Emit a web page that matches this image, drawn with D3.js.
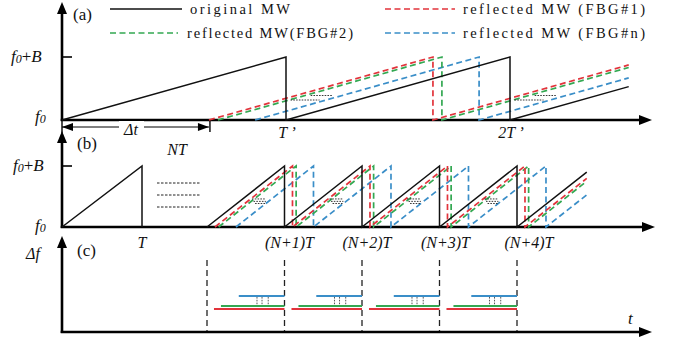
<!DOCTYPE html>
<html><head><meta charset="utf-8">
<script src="https://cdn.jsdelivr.net/npm/d3@7"></script>
<style>
body{margin:0;background:#fff}
svg{display:block}
</style>
</head><body>
<svg id="fig" width="675" height="341"></svg>
<script>
// ---- signals: original chirp and the three FBG reflections ----
const seriesNames  = ["original MW", "reflected MW (FBG#1)", "reflected MW(FBG#2)", "reflected MW (FBG#n)"];
const seriesColors = ["#111111", "#e2333b", "#33a852", "#3a8ec8"];

// panel (a): one chirp period T' = 1; delay of each signal in units of T'
const delaysA = [0, 0.656, 0.696, 0.862];
const endA = 2.53;
const tickTimesA  = [1, 2];
const tickLabelsA = ["T\u2009\u2019", "2T\u2009\u2019"];

// panel (b): period T; first chirp, then the chirps after NT (k = periods after NT)
const delaysB = [0, 0.103, 0.15, 0.374];
const endB = 4.9;
const tickLabelsB = ["T", "(N+1)T", "(N+2)T", "(N+3)T", "(N+4)T"];

// panel (c): beat frequency of each reflection (FBG#1, FBG#2, FBG#n)
const beatStart  = [0.09, 0.18, 0.41];
const beatLevels = [0.23, 0.26, 0.36];
const beatPeriods = [0, 1, 2, 3];

const svg = d3.select("#fig");
const SERIF = "'Liberation Serif'";

// scales
const xA  = d3.scaleLinear().domain([0, 1]).range([62, 286]);
const yA  = d3.scaleLinear().domain([0, 1]).range([120, 57]);
const xB1 = d3.scaleLinear().domain([0, 1]).range([62, 142]);
const xB2 = d3.scaleLinear().domain([0, 4]).range([207, 517]);
const yB  = d3.scaleLinear().domain([0, 1]).range([227, 166]);
const yC  = d3.scaleLinear().domain([0, 1]).range([332, 232]);

function txt(x, y, size, s, italic, anchor) {
  return svg.append("text").attr("x", x).attr("y", y)
    .style("font-family", SERIF).style("font-size", size + "px")
    .style("font-style", italic ? "italic" : "normal")
    .attr("fill", "#111").attr("text-anchor", anchor || "start").text(s);
}

// sawtooth vertices: linear ramps starting at `delay`, reset every period
function saw(delay, tEnd) {
  const pts = [[delay, 0]];
  let s = delay;
  while (s + 1 <= tEnd + 1e-9) { pts.push([s + 1, 1], [s + 1, 0]); s += 1; }
  if (tEnd > s) pts.push([tEnd, tEnd - s]);
  return pts;
}

function drawSaw(g, pts, x, y, i) {
  const line = d3.line().x(p => x(p[0])).y(p => y(p[1]));
  g.append("path").attr("d", line(pts))
    .attr("fill", "none")
    .attr("stroke", seriesColors[i])
    .attr("stroke-width", i === 0 ? 1.5 : 1.7)
    .attr("stroke-dasharray", i === 0 ? null : "6,3.5");
}

// axes with arrow heads
function axes(x0, yBase, yTop, xEnd) {
  const g = svg.append("g");
  g.append("line").attr("x1", x0).attr("x2", x0).attr("y1", yBase + 1).attr("y2", yTop + 8)
    .attr("stroke", "#000").attr("stroke-width", 2.6);
  g.append("path").attr("d", `M${x0},${yTop}L${x0 - 5},${yTop + 12}L${x0 + 5},${yTop + 12}Z`).attr("fill", "#000");
  g.append("line").attr("x1", x0 - 1.3).attr("x2", xEnd - 8).attr("y1", yBase).attr("y2", yBase)
    .attr("stroke", "#000").attr("stroke-width", 2.6);
  g.append("path").attr("d", `M${xEnd},${yBase}L${xEnd - 13},${yBase - 5}L${xEnd - 13},${yBase + 5}Z`).attr("fill", "#000");
}

function fLabel(x, y, withB) {
  const t = txt(x, y, 17, "", true);
  t.append("tspan").text("f");
  t.append("tspan").style("font-size", "12px").attr("dy", 1).text("0");
  if (withB) {
    t.append("tspan").attr("dy", -1).style("font-style", "normal").text("+");
    t.append("tspan").text("B");
  }
}

function dotted(x1, x2, y1, y2, color) {
  svg.append("line").attr("x1", x1).attr("x2", x2).attr("y1", y1).attr("y2", y2)
    .attr("stroke", color || "#222").attr("stroke-width", 0.9).attr("stroke-dasharray", "1.6,1.2");
}

// ================= panel (a) =================
axes(62, 120, 2, 652);
svg.append("line").attr("x1", 62).attr("x2", 72).attr("y1", yA(1)).attr("y2", yA(1)).attr("stroke", "#000").attr("stroke-width", 1.6);
fLabel(11, yA(1) + 5, true);
fLabel(35, 122, false);
const gA = svg.append("g");
[3, 2, 1, 0].forEach(i => drawSaw(gA, saw(delaysA[i], endA), xA, yA, i));
// beat-note hatches after each reset
tickTimesA.forEach(t => {
  dotted(xA(t + 0.11), xA(t + 0.21), 95.5, 95.5);
  dotted(xA(t + 0.02), xA(t + 0.15), 100, 100);
});
tickTimesA.forEach((t, j) => txt(xA(t) + 1, 138, 16, tickLabelsA[j], true, "middle"));
// delay marker Δt
const dtX1 = xA(0), dtX2 = xA(delaysA[1]);
svg.append("line").attr("x1", dtX1).attr("x2", dtX2).attr("y1", 127).attr("y2", 127).attr("stroke", "#000").attr("stroke-width", 1);
svg.append("path").attr("d", `M${dtX1},127L${dtX1 + 11},123L${dtX1 + 11},131Z`).attr("fill", "#000");
svg.append("path").attr("d", `M${dtX2},127L${dtX2 - 11},123L${dtX2 - 11},131Z`).attr("fill", "#000");
svg.append("line").attr("x1", dtX2 + 1).attr("x2", dtX2 + 1).attr("y1", 121).attr("y2", 132).attr("stroke", "#000").attr("stroke-width", 1.4);
svg.append("line").attr("x1", dtX1).attr("x2", dtX1).attr("y1", 121).attr("y2", 133).attr("stroke", "#000").attr("stroke-width", 1.4);
svg.append("rect").attr("x", 119).attr("y", 121).attr("width", 25).attr("height", 14).attr("fill", "#fff");
txt(131, 135, 16, "\u0394t", true, "middle");
txt(73, 20, 17, "(a)", false);

// legend
const legendPos = [[110, 182, 9, 190, 100], [385, 455, 9, 463, 182], [110, 178, 33, 187, 166], [385, 455, 33, 463, 182]];
legendPos.forEach((p, i) => {
  svg.append("line").attr("x1", p[0]).attr("x2", p[1]).attr("y1", p[2]).attr("y2", p[2])
    .attr("stroke", seriesColors[i]).attr("stroke-width", 1.6)
    .attr("stroke-dasharray", i === 0 ? null : "6,3.5");
  txt(p[3], p[2] + 5, 14.5, seriesNames[i], false)
    .attr("textLength", p[4]).attr("lengthAdjust", "spacing");
});

// ================= panel (b) =================
axes(62, 227, 131, 655);
svg.append("line").attr("x1", 62).attr("x2", 72).attr("y1", yB(1)).attr("y2", yB(1)).attr("stroke", "#000").attr("stroke-width", 1.6);
fLabel(13, yB(1) + 5, true);
fLabel(35, 231, false);
txt(77, 149, 17, "(b)", false);
const gB = svg.append("g");
drawSaw(gB, saw(0, 1), xB1, yB, 0);
[3, 2, 1, 0].forEach(i => drawSaw(gB, saw(delaysB[i], endB), xB2, yB, i));
[0, 1, 2, 3].forEach(k => {
  [0.46, 0.42, 0.385].forEach((f, j) => dotted(xB2(k + 0.58 + j * 0.02), xB2(k + 0.76), yB(f), yB(f)));
});
// NT gap
txt(177, 155, 16, "NT", true, "middle");
[183, 195, 207].forEach(y => svg.append("line").attr("x1", 157).attr("x2", 200).attr("y1", y).attr("y2", y)
  .attr("stroke", "#222").attr("stroke-width", 1).attr("stroke-dasharray", "2.5,1.5"));
// period labels
const tickXB = [xB1(1), xB2(1) + 5, xB2(2) + 5, xB2(3) + 6, xB2(4) + 12];
tickLabelsB.forEach((l, j) => txt(tickXB[j], 248, 16, l, true, "middle"));

// ================= panel (c) =================
axes(62, 332, 236, 652);
txt(77, 256, 17, "(c)", false);
txt(26, 259, 16, "\u0394f", true);
txt(628, 324, 17, "t", true);
[0, 1, 2, 3, 4].forEach(k => svg.append("line").attr("x1", xB2(k)).attr("x2", xB2(k)).attr("y1", 260).attr("y2", 331)
  .attr("stroke", "#222").attr("stroke-width", 1.3).attr("stroke-dasharray", "6,4"));
beatPeriods.forEach(k => {
  beatLevels.forEach((lv, i) => {
    svg.append("line").attr("x1", xB2(k + beatStart[i])).attr("x2", xB2(k + 1)).attr("y1", yC(lv)).attr("y2", yC(lv))
      .attr("stroke", seriesColors[i + 1]).attr("stroke-width", 1.8);
  });
  [0.645, 0.71, 0.79].forEach(o => dotted(xB2(k + o), xB2(k + o), yC(beatLevels[2]) + 1, yC(beatLevels[1]) - 1, "#444"));
});
</script>
</body></html>
